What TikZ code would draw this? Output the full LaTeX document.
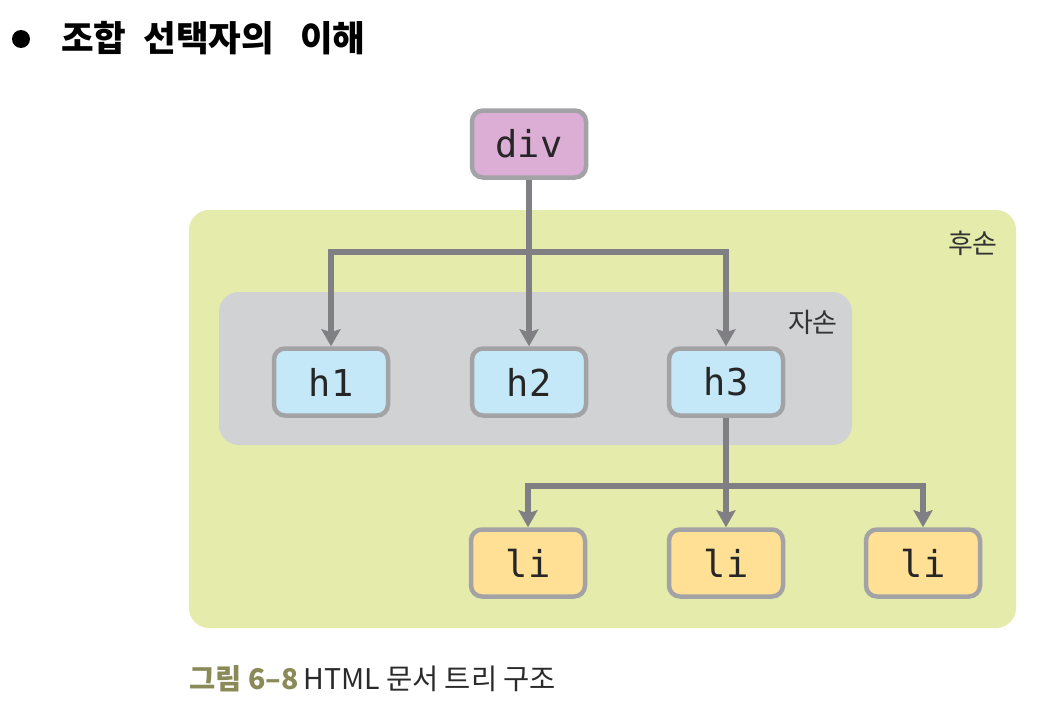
\documentclass[tikz,border=0pt]{standalone}
\usepackage{fontspec}
\setmainfont{Noto Sans CJK KR}
\newfontfamily\krfont{Noto Sans CJK KR}
\newfontfamily\codefont{DejaVu Sans Mono}
\usetikzlibrary{arrows.meta}
\definecolor{descbg}{HTML}{E5EBAA}
\definecolor{childbg}{HTML}{D1D2D4}
\definecolor{divfill}{HTML}{DCAED6}
\definecolor{hfill}{HTML}{C5E8F8}
\definecolor{lifill}{HTML}{FFE094}
\definecolor{boxline}{HTML}{A3A3A5}
\definecolor{connline}{HTML}{808084}
\definecolor{capolive}{HTML}{8A8A58}
\definecolor{captext}{HTML}{2A2A2A}
\tikzset{
  elbox/.style={draw=boxline, line width=4.5pt, rounded corners=11pt,
    minimum width=114pt, minimum height=67pt, inner sep=0pt,
    font=\codefont\fontsize{37}{40}\selectfont, text=black!85},
  region/.style={rounded corners=20pt},
  conn/.style={draw=connline, line width=5.5pt,
    -{Stealth[length=17pt,width=19pt,inset=3pt]}},
  tag/.style={font=\krfont\fontsize{27}{30}\selectfont, text=black!80, inner sep=0pt}
}
\begin{document}
\begin{tikzpicture}[x=1pt,y=-1pt]
\useasboundingbox (0,0) rectangle (1058,725);
% title
\fill[black] (21,39) circle (9);
\node[anchor=west, inner sep=0pt, font=\krfont\bfseries\fontsize{35.5}{38}\selectfont] (title) at (61,38) {조합\hspace{17pt}선택자의\hspace{26pt}이해};
% regions
\fill[descbg, region] (189,210) rectangle (1016,628);
\node[tag, anchor=east] (desc) at (998,243) {후손};
\fill[childbg, region] (219,292) rectangle (852,445);
\node[tag, anchor=east] (child) at (838,322) {자손};
% nodes
\node[elbox, fill=divfill] (div) at (529,144) {div};
\node[elbox, fill=hfill] (h1) at (331,382) {h1};
\node[elbox, fill=hfill] (h2) at (529,382) {h2};
\node[elbox, fill=hfill] (h3) at (726,382) {h3};
\node[elbox, fill=lifill] (li1) at (528,563) {li};
\node[elbox, fill=lifill] (li2) at (726,563) {li};
\node[elbox, fill=lifill] (li3) at (923,563) {li};
% connectors
\coordinate (bus) at (529,252);
\coordinate (bus2) at (726,486);
\draw[conn] (bus) -| (h1.north);
\draw[conn] (bus) -| (h3.north);
\draw[conn] (div.south) -- (h2.north);
\draw[conn] (bus2) -| (li1.north);
\draw[conn] (bus2) -| (li3.north);
\draw[conn] (h3.south) -- (li2.north);
% caption
\node[anchor=west, inner sep=0pt, font=\krfont\fontsize{28.5}{31}\selectfont] (cap) at (189,679)
  {\textcolor{capolive}{\bfseries 그림 6–8}\,\textcolor{captext}{HTML 문서 트리 구조}};
\end{tikzpicture}
\end{document}
